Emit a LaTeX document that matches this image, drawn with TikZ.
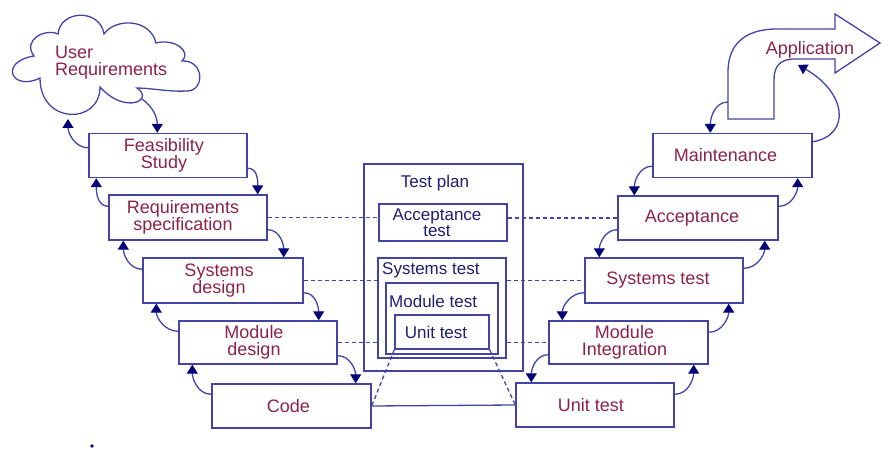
\documentclass[tikz,border=0pt]{standalone}
\usepackage{fontspec}
\setmainfont{Liberation Sans}
\usetikzlibrary{arrows.meta}
\definecolor{lineblue}{RGB}{68,68,165}
\definecolor{tipnavy}{RGB}{0,0,120}
\definecolor{txtred}{RGB}{139,35,70}
\definecolor{txtnavy}{RGB}{30,30,110}
\begin{document}
\begin{tikzpicture}[x=1pt,y=1pt,
  box/.style={draw=lineblue,line width=1.4pt,rectangle,inner sep=0pt,minimum width=158,minimum height=44},
  lbl/.style={text=txtred,font=\fontsize{18}{17}\selectfont,align=center,inner sep=0pt},
  clbl/.style={text=txtnavy,font=\fontsize{17}{16}\selectfont,align=center,inner sep=0pt},
  tbox/.style={draw=lineblue,line width=1.4pt,rectangle,inner sep=0pt},
  arr/.style={draw=lineblue,line width=1.3pt,-{Triangle[width=11pt,length=9pt,color=tipnavy]}},
  dashln/.style={draw=lineblue,line width=1.3pt,dash pattern=on 4pt off 3pt},
  conn/.style={draw=lineblue,line width=1.3pt}]
\useasboundingbox (0,0) rectangle (895,-449);

% cloud
\draw[lineblue,line width=1.3pt]
  (40,-78) .. controls (12,-92) and (-2,-62) .. (34,-56)
  .. controls (22,-40) and (45,-28) .. (58,-34)
  .. controls (60,-10) and (100,-8) .. (104,-34)
  .. controls (115,-18) and (150,-18) .. (156,-43)
  .. controls (175,-38) and (192,-52) .. (182,-61)
  .. controls (205,-60) and (205,-92) .. (186,-91)
  .. controls (170,-92) and (150,-88) .. (137,-88)
  .. controls (155,-100) and (125,-115) .. (100,-87)
  .. controls (100,-125) and (40,-125) .. (40,-78) -- cycle;
\node[lbl,align=left,anchor=west] (ureq) at (55,-63) {User\\Requirements};
\coordinate (cloudout) at (142,-99);
\coordinate (cloudin) at (68,-119);

% left boxes
\node[box] (feas) at (168,-155.5) {};
\node[box,minimum height=45] (req) at (188,-217.5) {};
\node[box,minimum width=160,minimum height=45] (sysd) at (223,-280.5) {};
\node[box,minimum height=43] (modd) at (258,-342.5) {};
\node[box,minimum width=159] (code) at (291.5,-406) {};
\node[lbl] (feasT) at ([xshift=-4]feas.center) {Feasibility\\Study};
\node[lbl] (reqT) at ([xshift=-5]req.center) {Requirements\\specification};
\node[lbl] (sysdT) at ([xshift=-4]sysd.center) {Systems\\design};
\node[lbl] (moddT) at ([xshift=-4]modd.center) {Module\\design};
\node[lbl] (codeT) at ([xshift=-3]code.center) {Code};

% right boxes
\node[box,minimum width=159] (maint) at (732.5,-155.5) {};
\node[box,minimum width=160] (acc) at (698,-218) {};
\node[box,minimum height=45] (syst) at (664,-280.5) {};
\node[box,minimum width=159,minimum height=43] (modi) at (628.5,-342.5) {};
\node[box] (unit) at (595,-405) {};
\node[lbl] (maintT) at ([xshift=-7]maint.center) {Maintenance};
\node[lbl] (accT) at ([xshift=-6]acc.center) {Acceptance};
\node[lbl] (systT) at ([xshift=-6]syst.center) {Systems test};
\node[lbl] (modiT) at ([xshift=-4]modi.center) {Module\\Integration};
\node[lbl] (unitT) at ([xshift=-4]unit.center) {Unit test};

% application arrow
\draw[lineblue,line width=1.3pt] (728,-119) -- (728,-72) .. controls (728,-40) and (750,-29) .. (777,-29)
  -- (835,-29) -- (835,-14) -- (880,-43) -- (835,-73) -- (835,-59) -- (795,-59)
  .. controls (780,-59) and (774,-66) .. (774,-80) -- (774,-119) -- cycle;
\node[lbl] (app) at (810,-50) {Application};
\coordinate (appin) at (798,-65);
\coordinate (appout) at (728,-102);

% centre test plan
\node[tbox,minimum width=159,minimum height=207] (tp) at (443.5,-267.5) {};
\node[clbl] (tpT) at (435,-183) {Test plan};
\node[tbox,minimum width=128,minimum height=37] (acct) at (443,-222.5) {};
\node[clbl] (acctT) at (437,-223) {Acceptance\\test};
\node[tbox,minimum width=128,minimum height=100] (systb) at (442,-308) {};
\node[clbl,anchor=west] (systbT) at (382,-270) {Systems test};
\node[tbox,minimum width=112,minimum height=71] (modtb) at (442,-318.5) {};
\node[clbl,anchor=west] (modtbT) at (389,-301) {Module test};
\node[tbox,minimum width=94,minimum height=34] (utb) at (442,-332) {};
\node[clbl] (utbT) at (436,-332) {Unit test};

% dashed links
\draw[dashln] (req.east) -- (req.east -| acct.west);
\draw[dashln] (acct.east |- acc.west) -- (acc.west);
\draw[dashln] (sysd.east) -- (sysd.east -| systb.west);
\draw[dashln] (systb.east |- syst.west) -- (syst.west);
\draw[dashln] (modd.east) -- (modd.east -| systb.west);
\draw[dashln] (systb.east |- modi.west) -- (modi.west);
\draw[dashln] (utb.south west) -- (code.east);
\draw[dashln] (utb.south east) -- (unit.west);
\draw[conn] (code.east) -- (unit.west);

% left arrows
\draw[arr] (cloudout) to[out=-35,in=90] ([xshift=69]feas.north west);
\draw[arr] ([yshift=-15]feas.north west) to[out=180,in=-90] (cloudin);
\draw[arr] ([yshift=-12]req.north west) to[out=180,in=-90] ([xshift=8]feas.south west);
\draw[arr] ([yshift=-12]sysd.north west) to[out=180,in=-90] ([xshift=15]req.south west);
\draw[arr] ([yshift=-11]modd.north west) to[out=180,in=-90] ([xshift=14]sysd.south west);
\draw[arr] ([yshift=-11]code.north west) to[out=180,in=-90] ([xshift=14]modd.south west);
\draw[arr] ([yshift=10]feas.south east) to[out=0,in=90] ([xshift=-10]req.north east);
\draw[arr] ([yshift=11]req.south east) to[out=0,in=90] ([xshift=-20]sysd.north east);
\draw[arr] ([yshift=11]sysd.south east) to[out=0,in=90] ([xshift=-19]modd.north east);
\draw[arr] ([yshift=9]modd.south east) to[out=0,in=90] ([xshift=-16]code.north east);

% right arrows
\draw[arr] ([yshift=12]maint.south west) to[out=180,in=90] ([xshift=17]acc.north west);
\draw[arr] ([yshift=11]acc.south west) to[out=180,in=90] ([xshift=15]syst.north west);
\draw[arr] ([yshift=11]syst.south west) to[out=180,in=90] ([xshift=14]modi.north west);
\draw[arr] ([yshift=10]modi.south west) to[out=180,in=90] ([xshift=16]unit.north west);
\draw[arr] ([yshift=-12]unit.north east) to[out=0,in=-90] ([xshift=-15]modi.south east);
\draw[arr] ([yshift=-12]modi.north east) to[out=0,in=-90] ([xshift=-15]syst.south east);
\draw[arr] ([yshift=-11]syst.north east) to[out=0,in=-90] ([xshift=-14]acc.south east);
\draw[arr] ([yshift=-11]acc.north east) to[out=0,in=-90] ([xshift=-15]maint.south east);
\draw[arr] ([yshift=-9]maint.north east) .. controls (852,-135) and (846,-92) .. (appin);
\draw[arr] (appout) to[out=180,in=90] ([xshift=58]maint.north west);

% stray mark
\fill[tipnavy] (92,-446) circle (1.8);
\end{tikzpicture}
\end{document}
